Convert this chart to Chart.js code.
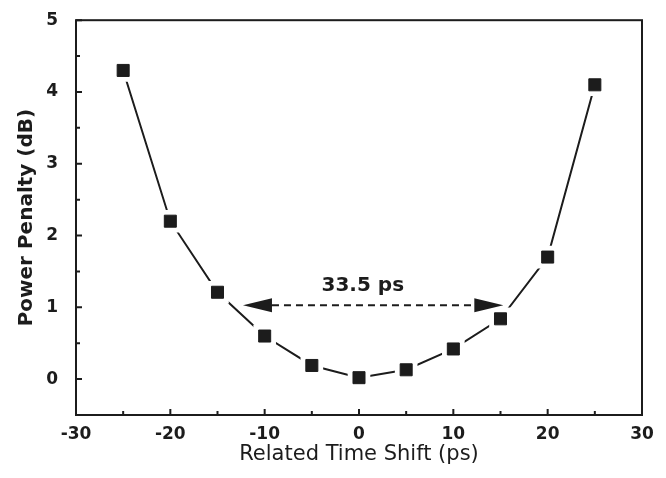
<!DOCTYPE html>
<html>
<head>
<meta charset="utf-8">
<script src="https://cdn.jsdelivr.net/npm/chart.js@4.4.1/dist/chart.umd.min.js"></script>
<style>
  html, body { margin: 0; padding: 0; background: #fff; }
  #wrap { width: 666px; height: 478px; }
</style>
</head>
<body>
<div id="wrap"><canvas id="penaltyChart"></canvas></div>
<script>
// measured power penalty vs relative time shift
const timeShift = [-25, -20, -15, -10, -5, 0, 5, 10, 15, 20, 25];
const penalty = [4.3, 2.2, 1.21, 0.6, 0.19, 0.02, 0.13, 0.42, 0.84, 1.7, 4.1];

const xTicks = [-30, -20, -10, 0, 10, 20, 30];
const xMinor = [-25, -15, -5, 5, 15, 25];
const yTicks = [0, 1, 2, 3, 4, 5];
const yMinor = [0.5, 1.5, 2.5, 3.5, 4.5];

// 33.5 ps window annotation
const arrowX = [-12.3, 15.3];
const arrowY = 1.03;
const labelX = 0.4;
const labelY = 1.3;
const labelText = '33.5 ps';

const INK = '#1c1c1c';
const points = timeShift.map((x, i) => ({ x: x, y: penalty[i] }));

// Box, inward ticks and the arrow annotation
const framePlugin = {
  id: 'frame',
  afterDatasetsDraw(chart) {
    const { ctx, chartArea: a, scales } = chart;
    const xs = scales.x, ys = scales.y;
    ctx.save();
    ctx.strokeStyle = INK;
    ctx.lineWidth = 2;
    ctx.strokeRect(a.left, a.top, a.right - a.left, a.bottom - a.top);

    ctx.beginPath();
    xTicks.forEach(v => { const p = xs.getPixelForValue(v); ctx.moveTo(p, a.bottom); ctx.lineTo(p, a.bottom - 6); });
    xMinor.forEach(v => { const p = xs.getPixelForValue(v); ctx.moveTo(p, a.bottom); ctx.lineTo(p, a.bottom - 4); });
    yTicks.forEach(v => { const p = ys.getPixelForValue(v); ctx.moveTo(a.left, p); ctx.lineTo(a.left + 6, p); });
    yMinor.forEach(v => { const p = ys.getPixelForValue(v); ctx.moveTo(a.left, p); ctx.lineTo(a.left + 4, p); });
    ctx.stroke();

    // arrow
    const x1 = xs.getPixelForValue(arrowX[0]);
    const x2 = xs.getPixelForValue(arrowX[1]);
    const y = ys.getPixelForValue(arrowY);
    const head = 29, half = 7;
    ctx.setLineDash([7, 5]);
    ctx.beginPath();
    ctx.moveTo(x1 + head, y);
    ctx.lineTo(x2 - head, y);
    ctx.stroke();
    ctx.setLineDash([]);
    ctx.fillStyle = INK;
    ctx.beginPath();
    ctx.moveTo(x1, y); ctx.lineTo(x1 + head, y - half); ctx.lineTo(x1 + head, y + half); ctx.closePath();
    ctx.moveTo(x2, y); ctx.lineTo(x2 - head, y - half); ctx.lineTo(x2 - head, y + half); ctx.closePath();
    ctx.fill();

    ctx.font = 'bold 20px "DejaVu Sans"';
    ctx.textAlign = 'center';
    ctx.textBaseline = 'middle';
    ctx.fillText(labelText, xs.getPixelForValue(labelX), ys.getPixelForValue(labelY));
    ctx.restore();
  }
};

new Chart(document.getElementById('penaltyChart'), {
  type: 'scatter',
  data: {
    datasets: [
      { // connecting line
        data: points, showLine: true, borderColor: INK, borderWidth: 2,
        pointRadius: 0, order: 3
      },
      { // white halo so the line stops short of the markers
        data: points, showLine: false, pointStyle: 'rect', pointRadius: 16,
        backgroundColor: '#fff', borderWidth: 0, order: 2
      },
      {
        data: points, showLine: false, pointStyle: 'rect', pointRadius: 8.5,
        backgroundColor: INK, borderColor: INK, borderWidth: 1, order: 1
      }
    ]
  },
  options: {
    responsive: true,
    maintainAspectRatio: false,
    animation: false,
    layout: { padding: { top: 15, right: 24, left: 0, bottom: 0 } },
    plugins: { legend: { display: false }, tooltip: { enabled: false } },
    scales: {
      x: {
        type: 'linear', min: -30, max: 30,
        grid: { display: false }, border: { display: false },
        afterBuildTicks: s => { s.ticks = xTicks.map(v => ({ value: v })); },
        afterFit: s => { s.height = 63; },
        ticks: { color: INK, padding: 1, font: { family: 'DejaVu Sans', size: 17, weight: 'bold' } },
        title: {
          display: true, text: 'Related Time Shift (ps)', color: INK,
          padding: { top: 0, bottom: 11 },
          font: { family: 'DejaVu Sans', size: 21, weight: 'normal' }
        }
      },
      y: {
        min: -0.5, max: 5,
        grid: { display: false }, border: { display: false },
        afterBuildTicks: s => { s.ticks = yTicks.map(v => ({ value: v })); },
        afterFit: s => { s.width = 76; },
        ticks: { color: INK, padding: 10, font: { family: 'DejaVu Sans', size: 17, weight: 'bold' } },
        title: {
          display: true, text: 'Power Penalty (dB)', color: INK,
          padding: { top: 15, bottom: 0 },
          font: { family: 'DejaVu Sans', size: 20, weight: 'bold' }
        }
      }
    }
  },
  plugins: [framePlugin]
});
</script>
</body>
</html>
